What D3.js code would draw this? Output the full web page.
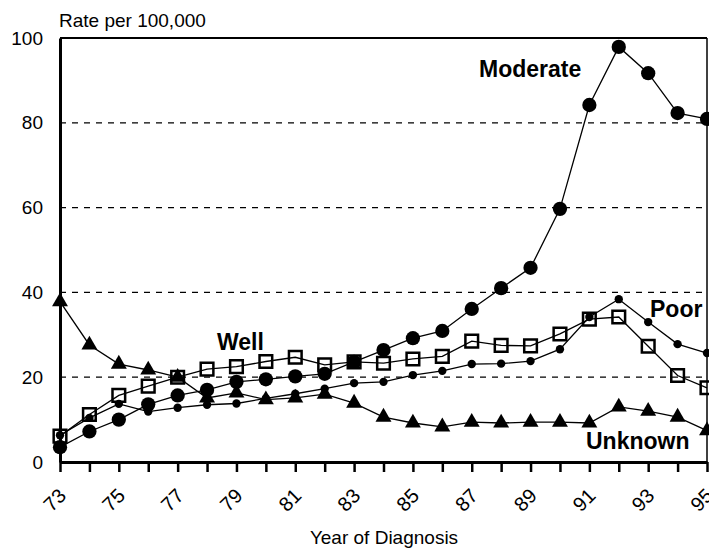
<!DOCTYPE html>
<html>
<head>
<meta charset="utf-8">
<script src="https://cdn.jsdelivr.net/npm/d3@7"></script>
<style>
  body { margin: 0; background: #fff; }
  svg { display: block; font-family: "Liberation Sans", Arial, sans-serif; }
</style>
</head>
<body>
<svg id="chart" width="709" height="548"></svg>
<script>
// data
var years = d3.range(73, 96);
var yTicks = [0, 20, 40, 60, 80, 100];
var xTickLabels = [73, 75, 77, 79, 81, 83, 85, 87, 89, 91, 93, 95];

var moderate = [3.5, 7.2, 10.0, 13.6, 15.7, 17.0, 18.9, 19.5, 20.2, 20.8, 23.6, 26.4, 29.2, 30.9, 36.1, 41.0, 45.8, 59.7, 84.2, 97.9, 91.7, 82.3, 80.9];
var poor     = [6.1, 11.2, 15.7, 17.9, 20.0, 21.9, 22.5, 23.7, 24.7, 22.9, 23.6, 23.3, 24.3, 24.9, 28.5, 27.5, 27.4, 30.2, 33.7, 34.2, 27.3, 20.4, 17.5];
var well     = [6.3, 10.4, 13.7, 11.9, 12.8, 13.5, 13.8, 15.0, 16.1, 17.3, 18.6, 18.9, 20.5, 21.5, 23.1, 23.2, 23.8, 26.6, 34.2, 38.4, 33.0, 27.8, 25.7];
var unknown  = [37.8, 27.6, 23.1, 21.7, 20.0, 15.1, 16.3, 14.7, 15.1, 16.0, 13.9, 10.6, 9.2, 8.3, 9.4, 9.2, 9.4, 9.4, 9.2, 13.0, 12.0, 10.6, 7.4];

var svg = d3.select("#chart");

var x = d3.scaleLinear().domain([73, 95]).range([60, 707]);
var y = d3.scaleLinear().domain([0, 100]).range([462, 38]);

// dashed grid
svg.append("g").selectAll("line")
  .data([20, 40, 60, 80])
  .enter().append("line")
  .attr("x1", x(73)).attr("x2", x(95))
  .attr("y1", function(d) { return y(d); })
  .attr("y2", function(d) { return y(d); })
  .attr("stroke", "#000")
  .attr("stroke-width", 1.2)
  .attr("stroke-dasharray", "6,6");

// frame: top and right thin, left and bottom heavy
svg.append("line").attr("x1", x(73)).attr("x2", x(95)).attr("y1", y(100)).attr("y2", y(100))
  .attr("stroke", "#000").attr("stroke-width", 2);
svg.append("line").attr("x1", x(95)).attr("x2", x(95)).attr("y1", y(100)).attr("y2", y(0))
  .attr("stroke", "#000").attr("stroke-width", 1.5);

// y axis
var yAxis = svg.append("g")
  .attr("transform", "translate(" + x(73) + ",0)")
  .call(d3.axisLeft(y).tickValues(yTicks).tickSize(0).tickPadding(17));
yAxis.select(".domain").attr("stroke-width", 3);
yAxis.selectAll("text").attr("font-size", 19).attr("fill", "#000")
  .attr("font-family", "Liberation Sans, Arial, sans-serif");

// x axis
var xAxis = svg.append("g")
  .attr("transform", "translate(0," + y(0) + ")")
  .call(d3.axisBottom(x).tickValues(years).tickSize(10).tickSizeOuter(0)
    .tickFormat(function(d) { return xTickLabels.indexOf(d) >= 0 ? d : ""; }));
xAxis.select(".domain").attr("stroke-width", 3);
xAxis.selectAll(".tick line").attr("stroke-width", 2.5);
xAxis.selectAll("text")
  .attr("font-size", 20).attr("fill", "#000")
  .attr("font-family", "Liberation Sans, Arial, sans-serif")
  .attr("text-anchor", "end")
  .attr("x", 0).attr("y", 0)
  .attr("dy", "0.35em")
  .attr("transform", "translate(2,30) rotate(-45)");

var line = d3.line()
  .x(function(d, i) { return x(years[i]); })
  .y(function(d) { return y(d); });

function drawLine(vals) {
  svg.append("path")
    .datum(vals)
    .attr("d", line)
    .attr("fill", "none")
    .attr("stroke", "#000")
    .attr("stroke-width", 1.3);
}

function drawMarks(vals, type, size, fill, stroke) {
  svg.append("g").selectAll("path")
    .data(vals)
    .enter().append("path")
    .attr("transform", function(d, i) { return "translate(" + x(years[i]) + "," + y(d) + ")"; })
    .attr("d", d3.symbol().type(type).size(size))
    .attr("fill", fill)
    .attr("stroke", stroke ? "#000" : "none")
    .attr("stroke-width", stroke ? 2.5 : 0);
}

drawLine(unknown);
drawMarks(unknown, d3.symbolTriangle, 110, "#000", false);
drawLine(poor);
drawMarks(poor, d3.symbolSquare, 160, "none", true);
drawLine(well);
drawMarks(well, d3.symbolCircle, 55, "#000", false);
drawLine(moderate);
drawMarks(moderate, d3.symbolCircle, 160, "#000", false);

// titles
svg.append("text").attr("x", 59).attr("y", 27)
  .attr("font-size", 19).text("Rate per 100,000");
svg.append("text").attr("x", 384).attr("y", 544)
  .attr("text-anchor", "middle").attr("font-size", 19).text("Year of Diagnosis");

// series labels
var labels = [
  { t: "Moderate", x: 479, y: 77 },
  { t: "Well", x: 217, y: 350 },
  { t: "Poor", x: 650, y: 317 },
  { t: "Unknown", x: 586, y: 449 }
];
svg.append("g").selectAll("text")
  .data(labels)
  .enter().append("text")
  .attr("x", function(d) { return d.x; })
  .attr("y", function(d) { return d.y; })
  .attr("font-size", 23)
  .attr("font-weight", "bold")
  .text(function(d) { return d.t; });
</script>
</body>
</html>
